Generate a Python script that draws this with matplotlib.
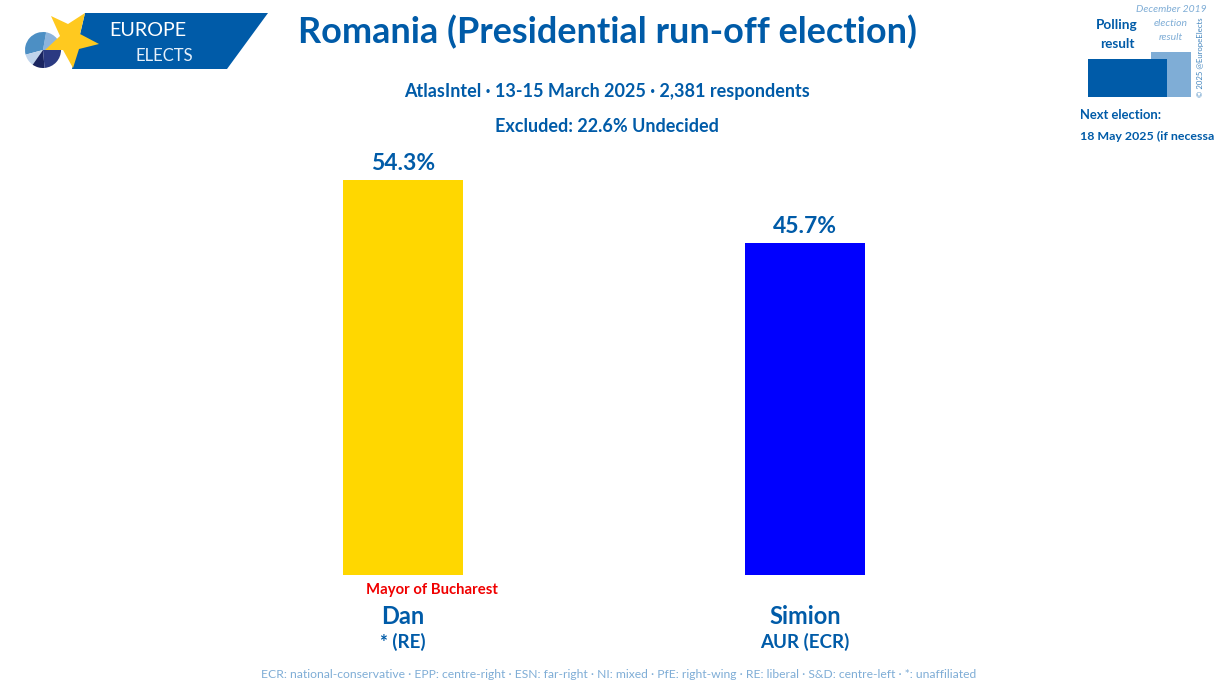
import matplotlib
matplotlib.use("Agg")
import matplotlib.pyplot as plt
from matplotlib.patches import Polygon, Rectangle, Wedge

candidates = ["Dan", "Simion"]
parties = ["* (RE)", "AUR (ECR)"]
values = [54.3, 45.7]
colors = ["#FFD700", "#0000FF"]

BLUE = "#005BA8"
LIGHT = "#7FADD6"
W, H = 1215, 700

plt.rcParams["font.family"] = ["Lato", "DejaVu Sans"]

fig = plt.figure(figsize=(W / 100, H / 100), dpi=100)

# bars, axes box is placed so that 0 sits at y=575px
ax = fig.add_axes([202 / W, (H - 575) / H, 804 / W, 395 / H])
xs = list(range(len(candidates)))
ax.bar(xs, values, width=0.2985, color=colors)
ax.set_xlim(-0.5, 1.5)
ax.set_ylim(0, 54.3)
ax.axis("off")
for x, v in zip(xs, values):
    ax.annotate(f"{v}%", (x, v), xytext=(0, 4), textcoords="offset points",
                ha="center", va="bottom", fontsize=16.5, fontweight="bold", color=BLUE)
for x, name, party in zip(xs, candidates, parties):
    ax.annotate(name, (x, 0), xytext=(0, -41), textcoords="offset pixels", ha="center",
                va="center", fontsize=17, fontweight="bold", color=BLUE)
    ax.annotate(party, (x, 0), xytext=(0, -67), textcoords="offset pixels", ha="center",
                va="center", fontsize=13.5, fontweight="bold", color=BLUE)

# everything else in pixel coords
bg = fig.add_axes([0, 0, 1, 1], zorder=3)
bg.set_xlim(0, W)
bg.set_ylim(H, 0)
bg.axis("off")
bg.patch.set_alpha(0)

bg.text(607, 32, "Romania (Presidential run-off election)", ha="center", va="center",
        fontsize=25.9, fontweight="bold", color=BLUE)
bg.text(607, 91, "AtlasIntel · 13-15 March 2025 · 2,381 respondents", ha="center", va="center",
        fontsize=13, fontweight="bold", color=BLUE)
bg.text(607, 127, "Excluded: 22.6% Undecided", ha="center", va="center",
        fontsize=13, fontweight="bold", color=BLUE)
bg.text(432, 590, "Mayor of Bucharest", ha="center", va="center",
        fontsize=10.7, fontweight="bold", color="#F00000")
bg.text(619, 675, "ECR: national-conservative · EPP: centre-right · ESN: far-right · NI: mixed · "
        "PfE: right-wing · RE: liberal · S&D: centre-left · *: unaffiliated",
        ha="center", va="center", fontsize=8.7, color=LIGHT)

# logo
bg.add_patch(Polygon([(85, 13), (268, 13), (227, 69), (72, 69)], color=BLUE, lw=0))
pie = [(-80, 0, "#8DB4DC"), (-195, -80, "#4C8FC4"), (125, 165, "#BFD4EC"),
       (85, 125, "#1A2560"), (0, 85, "#2B3A82")]
for t1, t2, c in pie:
    bg.add_patch(Wedge((43, 50), 18, t1, t2, color=c, lw=0))
bg.add_patch(Polygon([(51, 16), (68, 24), (85, 13), (80, 34), (99, 44), (79, 49), (73, 68),
                      (63, 50), (45, 50), (60, 36)], color="#FFC91F", lw=0))
bg.text(148, 31, "EUROPE", ha="center", va="center", fontsize=14.2, color="white")
bg.text(164, 56, "ELECTS", ha="center", va="center", fontsize=12, color="#E6F0FA")

# key, top right
bg.add_patch(Rectangle((1151, 52), 40, 45, color=LIGHT, lw=0))
bg.add_patch(Rectangle((1088, 59), 79, 38, color=BLUE, lw=0))
bg.text(1117, 25, "Polling", ha="center", va="center", fontsize=9.8, fontweight="bold", color=BLUE)
bg.text(1117, 44, "result", ha="center", va="center", fontsize=9.8, fontweight="bold", color=BLUE)
bg.text(1171, 9, "December 2019", ha="center", va="center", fontsize=7.5, style="italic", color=LIGHT)
bg.text(1171, 23, "election", ha="center", va="center", fontsize=7.5, style="italic", color=LIGHT)
bg.text(1171, 37, "result", ha="center", va="center", fontsize=7.5, style="italic", color=LIGHT)
bg.text(1200, 57, "© 2025 @EuropeElects", ha="center", va="center", rotation=90,
        fontsize=5.6, color=BLUE, alpha=0.75)
bg.text(1080, 115, "Next election:", ha="left", va="center", fontsize=9.4, fontweight="bold", color=BLUE)
bg.text(1080, 136, "18 May 2025 (if necessary)", ha="left", va="center", fontsize=8.9,
        fontweight="bold", color=BLUE)

fig.savefig("out.png", dpi=100)
